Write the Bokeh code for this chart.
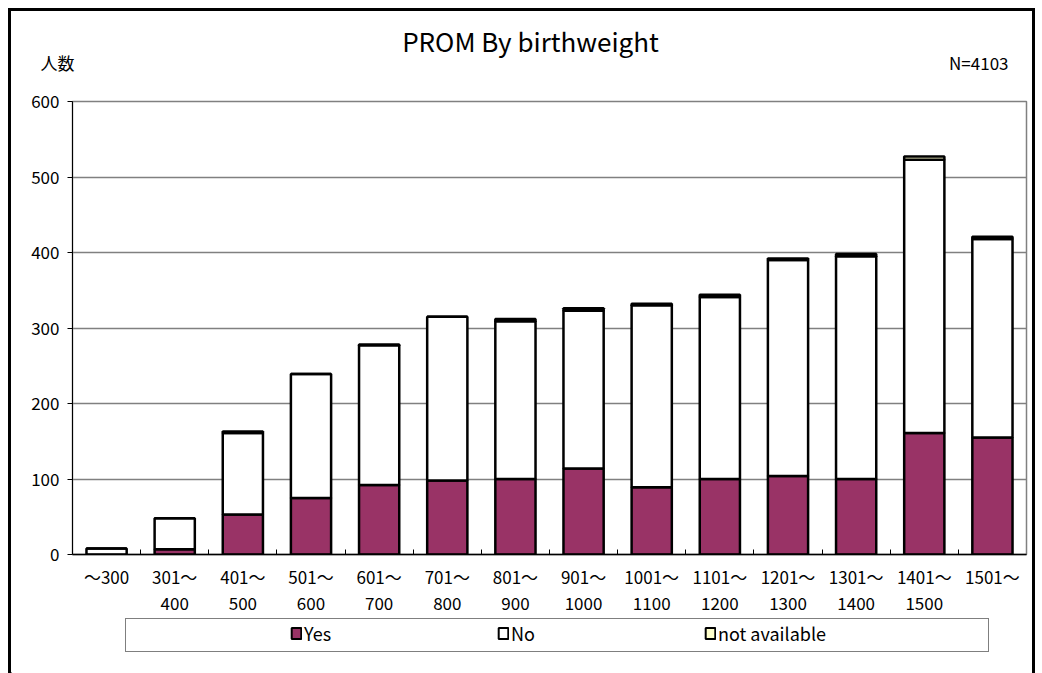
from bokeh.plotting import figure
from bokeh.models import (ColumnDataSource, Range1d, FixedTicker, Label, Legend,
                          LegendItem)
from bokeh.layouts import column
from bokeh.embed import file_html
from bokeh.resources import INLINE

# ---------------- data ----------------
categories = ["～300", "301～\n400", "401～\n500", "501～\n600", "601～\n700",
              "701～\n800", "801～\n900", "901～\n1000", "1001～\n1100",
              "1101～\n1200", "1201～\n1300", "1301～\n1400", "1401～\n1500",
              "1501～"]
yes_vals = [0, 7, 53, 75, 92, 98, 100, 114, 89, 100, 104, 100, 161, 155]
no_vals = [8, 41, 108, 164, 185, 217, 209, 209, 241, 241, 286, 295, 362, 263]
na_vals = [0, 0, 2, 0, 1, 0, 3, 3, 2, 3, 2, 3, 4, 3]
series_names = ["Yes", "No", "not available"]
series_colors = ["#993366", "#FFFFFF", "#FFFFCC"]
y_ticks = [0, 100, 200, 300, 400, 500, 600]
title_text = "PROM By birthweight"
ylabel_text = "人数"
n_text = "N=4103"

FONT = "Noto Sans CJK JP"
ncat = len(categories)
centers = [i + 0.5 for i in range(ncat)]

# layout (pixels)
CW = 1021          # canvas width inside the 3px border
HEAD_H = 74
MAIN_H = 533
LEG_H = 55


def bare(fig):
    fig.grid.visible = False
    fig.outline_line_color = None
    fig.background_fill_color = "white"
    fig.border_fill_color = "white"
    fig.frame_align = False
    return fig


# ---------------- header ----------------
h = bare(figure(width=CW, height=HEAD_H, x_range=Range1d(0, CW), y_range=Range1d(0, HEAD_H),
                output_backend="svg", toolbar_location=None,
                x_axis_location=None, y_axis_location=None, min_border=0))
h.add_layout(Label(x=519, y=HEAD_H - 29, text=title_text, text_align="center",
                   text_baseline="middle", text_font=FONT, text_font_size="26px",
                   text_color="black"))
h.add_layout(Label(x=46, y=HEAD_H - 51, text=ylabel_text, text_align="center",
                   text_baseline="middle", text_font=FONT, text_font_size="17px",
                   text_color="black"))
h.add_layout(Label(x=997, y=HEAD_H - 51, text=n_text, text_align="right",
                   text_baseline="middle", text_font=FONT, text_font_size="17px",
                   text_color="black"))

# ---------------- main chart ----------------
src = ColumnDataSource(dict(x=centers, yes=yes_vals, no=no_vals, na=na_vals))

p = figure(width=CW, height=MAIN_H, x_range=Range1d(0, ncat),
           y_range=Range1d(y_ticks[0], y_ticks[-1]),
           output_backend="svg", toolbar_location=None,
           min_border_left=61, min_border_right=6, min_border_top=16,
           min_border_bottom=64)
p.frame_align = False
p.outline_line_color = "#808080"
p.outline_line_width = 1.5
p.background_fill_color = "white"
p.border_fill_color = "white"

renderers = p.vbar_stack(["yes", "no", "na"], x="x", width=0.59, source=src,
                         fill_color=series_colors, line_color="black", line_width=2.5)

p.xgrid.grid_line_color = None
p.ygrid.grid_line_color = "#808080"
p.ygrid.grid_line_width = 1.3
p.ygrid.ticker = FixedTicker(ticks=y_ticks)
p.ygrid.level = "underlay"

p.yaxis.ticker = FixedTicker(ticks=y_ticks)
p.yaxis.axis_line_color = "black"
p.yaxis.major_tick_line_color = "black"
p.yaxis.major_tick_out = 5
p.yaxis.major_tick_in = 0
p.yaxis.minor_tick_line_color = None
p.yaxis.major_label_text_font = FONT
p.yaxis.major_label_text_font_size = "17px"
p.yaxis.major_label_text_color = "black"
p.yaxis.major_label_standoff = 8

p.xaxis.ticker = FixedTicker(ticks=centers, minor_ticks=list(range(1, ncat)))
p.xaxis.major_label_overrides = {c: lab for c, lab in zip(centers, categories)}
p.xaxis.major_tick_line_color = None
p.xaxis.minor_tick_line_color = "black"
p.xaxis.minor_tick_in = 5
p.xaxis.minor_tick_out = 0
p.xaxis.axis_line_color = "black"
p.xaxis.axis_line_width = 1.5
p.xaxis.major_label_text_font = FONT
p.xaxis.major_label_text_font_size = "17px"
p.xaxis.major_label_text_color = "black"
p.xaxis.major_label_text_line_height = 1.05
p.xaxis.major_label_standoff = 3

# ---------------- legend strip ----------------
q = bare(figure(width=CW, height=LEG_H, x_range=Range1d(0, 1), y_range=Range1d(0, 1),
                output_backend="svg", toolbar_location=None,
                x_axis_location=None, y_axis_location=None, min_border=0))

dummy = q.vbar(x=[], top=[], width=0.5, fill_alpha=0, line_alpha=0)
# legend stand-ins, kept outside the strip's visible range
swatches = [q.vbar(x=[-1], top=[-1], width=0.1, fill_color=c, line_color="black",
                   line_width=2) for c in series_colors]

box = Legend(items=[LegendItem(label=" ", renderers=[dummy])],
             location=(114, 21), padding=0, margin=0, spacing=0,
             glyph_width=10, glyph_height=32, label_height=32, label_standoff=0,
             label_width=852, border_line_color="black", border_line_width=1.2,
             background_fill_color="white", background_fill_alpha=1,
             label_text_font_size="1px")
q.add_layout(box, "center")

legend = Legend(items=[LegendItem(label=n, renderers=[r]) for n, r in zip(series_names, swatches)],
                orientation="horizontal", location=(279, 27), padding=0, margin=0,
                spacing=0, glyph_width=12, glyph_height=14, label_height=14,
                label_standoff=2, label_width=193, border_line_color=None,
                background_fill_alpha=0, label_text_font=FONT,
                label_text_font_size="18px", label_text_color="black")
q.add_layout(legend, "center")

layout = column(h, p, q, spacing=0)
layout.styles = {"margin-left": "8px", "margin-top": "8px",
                 "border-top": "3px solid black", "border-left": "3px solid black",
                 "border-right": "3px solid black"}

open("out.html", "w").write(file_html(layout, INLINE))
